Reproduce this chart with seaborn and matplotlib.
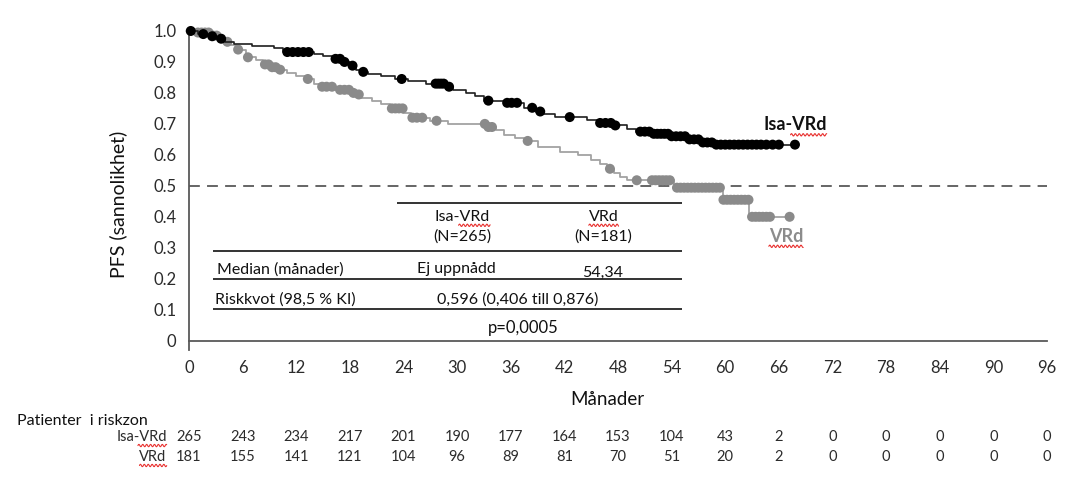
import numpy as np
import pandas as pd
import matplotlib
matplotlib.use("Agg")
import matplotlib.pyplot as plt
import seaborn as sns
from matplotlib.lines import Line2D
from matplotlib.transforms import blended_transform_factory, IdentityTransform

# ---------------- data ----------------
isa_t = [0, 1.0, 2.0, 3.0, 4.0, 5.0, 7.0, 9.5, 10.5, 14.0, 15.0, 16.0, 17.0, 18.0, 18.7,
         19.3, 20.0, 21.5, 23.0, 24.5, 26.5, 28.8, 29.5, 31.0, 32.0, 33.0, 35.5, 37.5,
         38.8, 39.5, 41.0, 44.5, 46.0, 47.5, 49.0, 50.0, 51.8, 54.0, 56.0, 57.5, 59.0]
isa_s = [1.0, 0.99, 0.983, 0.975, 0.965, 0.957, 0.952, 0.945, 0.932, 0.925, 0.918, 0.91,
         0.9, 0.888, 0.875, 0.868, 0.862, 0.855, 0.845, 0.838, 0.83, 0.82, 0.81, 0.8,
         0.79, 0.775, 0.768, 0.752, 0.74, 0.732, 0.722, 0.712, 0.703, 0.695, 0.685,
         0.675, 0.668, 0.66, 0.65, 0.64, 0.633]
isa_end = 67.8
isa_cens = [0.2, 1.6, 2.6, 3.6, 11.0, 11.6, 12.2, 12.8, 13.4, 16.4, 16.9, 17.4, 18.3, 19.5,
            23.8, 27.6, 27.9, 28.2, 28.5, 29.1, 33.5, 35.6, 36.1, 36.7, 38.4, 39.3, 42.6,
            46.0, 46.6, 47.2, 47.7, 50.5, 51.0, 51.5, 52.0, 52.4, 52.8, 53.2, 53.6, 54.0,
            54.5, 55.0, 55.5, 56.0, 56.5, 57.0, 57.5, 58.0, 58.5, 59.0, 59.5, 60.0, 60.5,
            61.0, 61.5, 62.0, 62.5, 63.0, 63.5, 64.0, 64.6, 65.3, 66.0, 67.8]

vrd_t = [0, 0.5, 2.5, 3.5, 4.0, 4.7, 5.3, 6.4, 7.5, 8.3, 9.3, 10.0, 11.0, 12.0, 13.0,
         14.0, 14.8, 16.5, 18.0, 18.6, 19.2, 20.5, 21.5, 22.5, 24.0, 24.8, 27.0, 29.0,
         33.3, 34.3, 35.3, 36.5, 37.5, 39.0, 41.5, 43.5, 45.0, 46.0, 46.8, 47.5, 48.2,
         49.0, 54.3, 59.7, 62.7]
vrd_s = [1.0, 0.995, 0.985, 0.975, 0.965, 0.955, 0.94, 0.915, 0.905, 0.892, 0.883, 0.875,
         0.865, 0.855, 0.845, 0.83, 0.82, 0.81, 0.80, 0.795, 0.785, 0.775, 0.765, 0.75,
         0.735, 0.72, 0.71, 0.70, 0.69, 0.68, 0.665, 0.655, 0.645, 0.625, 0.61, 0.60,
         0.585, 0.57, 0.555, 0.54, 0.53, 0.518, 0.494, 0.455, 0.40]
vrd_end = 67.2
vrd_cens = [1.0, 1.4, 1.8, 2.2, 2.7, 3.1, 4.3, 5.5, 6.6, 8.5, 8.9, 9.3, 9.7, 10.2, 13.3,
            14.9, 15.4, 16.0, 16.9, 17.4, 17.9, 18.4, 19.0, 22.7, 23.1, 23.5, 23.9, 25.0,
            25.5, 26.1, 27.7, 33.1, 33.5, 33.9, 37.9, 47.1, 50.1, 51.8, 52.2, 52.6, 53.0,
            53.4, 53.8, 54.6, 55.0, 55.4, 55.8, 56.2, 56.6, 57.0, 57.4, 57.8, 58.2, 58.6,
            59.0, 59.4, 59.8, 60.2, 60.6, 61.0, 61.4, 61.8, 62.2, 62.6, 63.0, 63.4, 63.8,
            64.2, 64.6, 65.0, 67.2]

x_ticks = [0, 6, 12, 18, 24, 30, 36, 42, 48, 54, 60, 66, 72, 78, 84, 90, 96]
y_ticks = [0, 0.1, 0.2, 0.3, 0.4, 0.5, 0.6, 0.7, 0.8, 0.9, 1.0]
y_ticklabels = ["0", "0.1", "0.2", "0.3", "0.4", "0.5", "0.6", "0.7", "0.8", "0.9", "1.0"]
risk_isa = [265, 243, 234, 217, 201, 190, 177, 164, 153, 104, 43, 2, 0, 0, 0, 0, 0]
risk_vrd = [181, 155, 141, 121, 104, 96, 89, 81, 70, 51, 20, 2, 0, 0, 0, 0, 0]

# ---------------- style ----------------
sns.set_theme(style="white")
FONT = ["Lato", "DejaVu Sans"]
plt.rcParams["font.family"] = FONT

BLACK_LINE = "#1f1f1f"
BLACK_DOT = "#000000"
GRAY_LINE = "#a3a3a3"
GRAY_DOT = "#8a8a8a"
AXIS = "#595959"
TXT = "#111111"
TICKTXT = "#2b2b2b"

fig = plt.figure(figsize=(10.86, 4.84), dpi=100)
ax = fig.add_axes([0.1740, 0.2769, 0.7901, 0.6591])


def curve_df(t, s, end):
    tt = list(t) + [end]
    ss = list(s) + [s[-1]]
    return pd.DataFrame({"t": tt, "s": ss})


def censor_df(t, s, cens):
    idx = np.searchsorted(np.array(t), np.array(cens), side="right") - 1
    return pd.DataFrame({"t": cens, "s": np.array(s)[idx]})


isa_df = curve_df(isa_t, isa_s, isa_end)
vrd_df = curve_df(vrd_t, vrd_s, vrd_end)
isa_c = censor_df(isa_t, isa_s, isa_cens)
vrd_c = censor_df(vrd_t, vrd_s, vrd_cens)

# 0.5 reference line
ax.axhline(0.5, color=AXIS, lw=1.3, dashes=(6, 4), zorder=1)

sns.lineplot(data=vrd_df, x="t", y="s", ax=ax, drawstyle="steps-post", color=GRAY_LINE,
             lw=1.3, estimator=None, sort=False, clip_on=False, zorder=2)
sns.scatterplot(data=vrd_c, x="t", y="s", ax=ax, color=GRAY_DOT, s=52, edgecolor="none",
                clip_on=False, zorder=3)
sns.lineplot(data=isa_df, x="t", y="s", ax=ax, drawstyle="steps-post", color=BLACK_LINE,
             lw=1.2, estimator=None, sort=False, clip_on=False, zorder=4)
sns.scatterplot(data=isa_c, x="t", y="s", ax=ax, color=BLACK_DOT, s=52, edgecolor="none",
                clip_on=False, zorder=5)

# axes
ax.set_xlim(0, 96)
ax.set_ylim(-0.03, 1.0)
ax.set_xticks(x_ticks)
ax.set_xticklabels([str(v) for v in x_ticks])
ax.set_yticks(y_ticks)
ax.set_yticklabels(y_ticklabels)
for side in ["top", "right"]:
    ax.spines[side].set_visible(False)
for side in ["left", "bottom"]:
    ax.spines[side].set_color(AXIS)
    ax.spines[side].set_linewidth(1.3)
ax.spines["bottom"].set_position(("data", 0))
ax.tick_params(axis="x", direction="out", length=8, width=1.3, color=AXIS,
               labelsize=12, labelcolor=TICKTXT, pad=6)
ax.tick_params(axis="y", direction="out", length=7, width=1.3, color=AXIS,
               labelsize=12, labelcolor=TICKTXT, pad=2)
ax.set_xlabel("Månader", fontsize=13.5, color=TXT)
ax.xaxis.set_label_coords(0.487, -0.128)
ax.set_ylabel("PFS (sannolikhet)", fontsize=14, color=TXT)
ax.yaxis.set_label_coords(-0.072, 0.455)

# curve labels
t_isa_lab = ax.text(67.8, 0.697, "Isa-VRd", fontsize=13, fontweight="bold", color="#111111",
                    ha="center", va="center")
t_vrd_lab = ax.text(66.8, 0.337, "VRd", fontsize=13, fontweight="bold", color="#8c8c8c",
                    ha="center", va="center")

# summary table inside plot
tl = dict(color="#333333", lw=1.4)
ax.hlines(0.445, 23.3, 55.2, **tl)
ax.hlines([0.29, 0.20, 0.103], 2.7, 55.2, **tl)
FS = 11.5
t_h1 = ax.text(30.6, 0.40, "Isa-VRd", fontsize=FS, color=TXT, ha="center", va="center")
ax.text(30.6, 0.335, "(N=265)", fontsize=FS, color=TXT, ha="center", va="center")
t_h2 = ax.text(46.4, 0.40, "VRd", fontsize=FS, color=TXT, ha="center", va="center")
ax.text(46.4, 0.335, "(N=181)", fontsize=FS, color=TXT, ha="center", va="center")
ax.text(3.1, 0.229, "Median (månader)", fontsize=FS, color=TXT, ha="left", va="center")
ax.text(29.9, 0.232, "Ej uppnådd", fontsize=FS, color=TXT, ha="center", va="center")
ax.text(46.3, 0.219, "54,34", fontsize=FS, color=TXT, ha="center", va="center")
ax.text(2.9, 0.132, "Riskkvot (98,5 % KI)", fontsize=FS, color=TXT, ha="left", va="center")
ax.text(36.8, 0.132, "0,596 (0,406 till 0,876)", fontsize=FS, color=TXT, ha="center",
        va="center")
ax.text(37.4, 0.042, "p=0,0005", fontsize=12, color=TXT, ha="center", va="center")

# risk table
tr = blended_transform_factory(ax.transData, fig.transFigure)
fig.text(0.016, 0.130, "Patienter  i riskzon", fontsize=11.5, color=TXT, ha="left",
         va="center")
t_r1 = fig.text(0.1535, 0.097, "Isa-VRd", fontsize=10.5, color=TICKTXT, ha="right",
                va="center")
t_r2 = fig.text(0.1535, 0.0558, "VRd", fontsize=10.5, color=TICKTXT, ha="right",
                va="center")
for xv, a, b in zip(x_ticks, risk_isa, risk_vrd):
    ax.text(xv, 0.097, str(a), transform=tr, fontsize=10.5, color=TICKTXT, ha="center",
            va="center")
    ax.text(xv, 0.0558, str(b), transform=tr, fontsize=10.5, color=TICKTXT, ha="center",
            va="center")

# red wavy spell-check underlines
fig.canvas.draw()
renderer = fig.canvas.get_renderer()


def squiggle(txt, frac_start=0.0):
    bb = txt.get_window_extent(renderer)
    x0 = bb.x0 + frac_start * bb.width
    x1 = bb.x1
    xs = np.linspace(x0, x1, max(int((x1 - x0) * 2), 4))
    ys = bb.y0 - 1.5 + 1.2 * np.sin((xs - x0) / 3.0 * 2 * np.pi / 1.3)
    fig.add_artist(Line2D(xs, ys, transform=IdentityTransform(), color="#e8312f", lw=0.8))


squiggle(t_isa_lab, 0.43)
squiggle(t_vrd_lab, 0.0)
squiggle(t_h1, 0.43)
squiggle(t_h2, 0.0)
squiggle(t_r1, 0.43)
squiggle(t_r2, 0.0)

fig.savefig("out.png", dpi=100, facecolor="white")
